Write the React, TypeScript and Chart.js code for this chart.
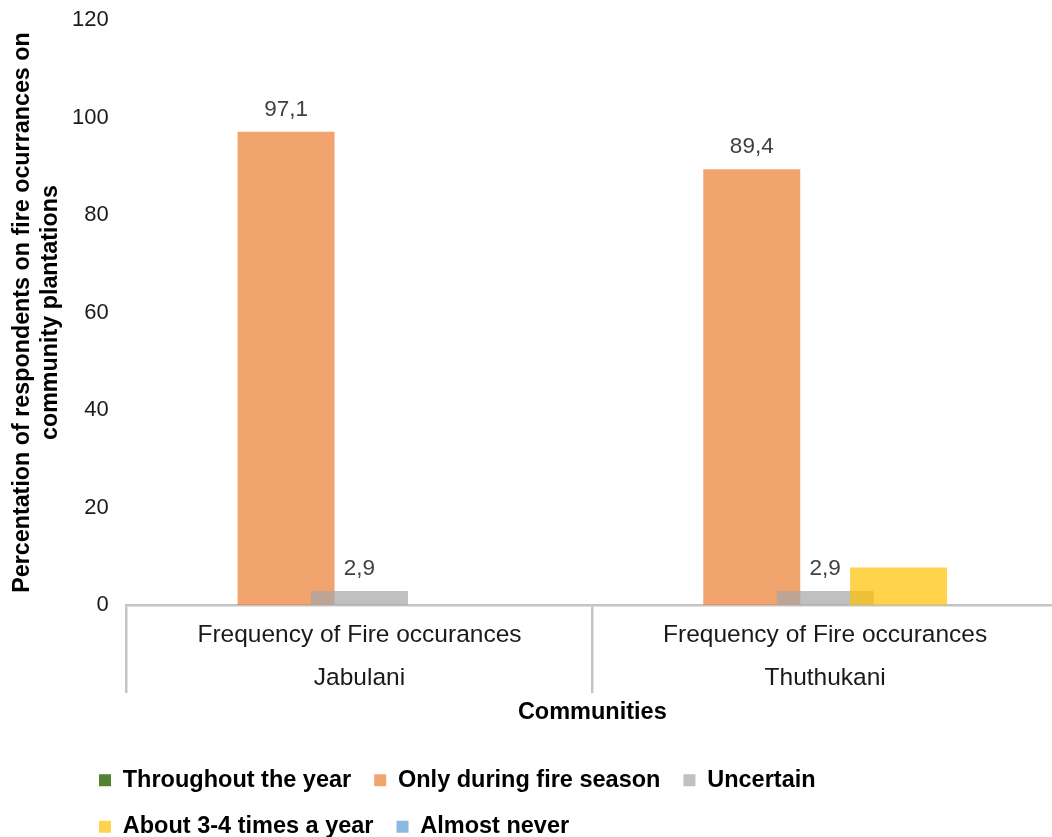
import React, { useEffect, useRef } from 'react';
import { Chart, registerables } from 'chart.js';

Chart.register(...registerables);

// ---- data ----
const COMMUNITIES = ['Jabulani', 'Thuthukani'];
const GROUP_LABEL = 'Frequency of Fire occurances';
const SERIES_NAMES = [
  'Throughout the year',
  'Only during fire season',
  'Uncertain',
  'About 3-4 times a year',
  'Almost never',
];
const THROUGHOUT_THE_YEAR = [0, 0];
const ONLY_DURING_FIRE_SEASON = [97.1, 89.4];
const UNCERTAIN = [2.9, 2.9];
const ABOUT_3_4_TIMES_A_YEAR = [0, 7.7];
const ALMOST_NEVER = [0, 0];
const SERIES_VALUES = [
  THROUGHOUT_THE_YEAR,
  ONLY_DURING_FIRE_SEASON,
  UNCERTAIN,
  ABOUT_3_4_TIMES_A_YEAR,
  ALMOST_NEVER,
];
// series whose values are printed above the bars
const LABELLED_SERIES = ['Only during fire season', 'Uncertain'];
const Y_MIN = 0;
const Y_MAX = 120;
const Y_STEP = 20;
const X_TITLE = 'Communities';
const Y_TITLE = ['Percentation of respondents on fire ocurrances on', 'community plantations'];

// ---- styling ----
const SERIES_COLORS = [
  'rgb(84, 130, 53)',
  'rgba(237, 125, 49, 0.7)',
  'rgba(165, 165, 165, 0.7)',
  'rgba(255, 192, 0, 0.7)',
  'rgba(91, 155, 213, 0.7)',
];
const FONT_FAMILY = '"Liberation Sans", Arial, Helvetica, sans-serif';
const AXIS_LINE = '#c4c4c4';
const SERIES_SPACING = 0.1576; // distance between neighbouring series, in category units
const BAR_THICKNESS = 97;
const LEGEND_LEFT = 76;
const LEGEND_TOP = 745.5;

Chart.defaults.font.family = FONT_FAMILY;

const formatValue = (v: number) => v.toFixed(1).replace('.', ',');

// Prints the value of the labelled series above each bar.
const valueLabels = {
  id: 'valueLabels',
  afterDatasetsDraw(chart: any) {
    const { ctx } = chart;
    ctx.save();
    ctx.font = `22.5px ${FONT_FAMILY}`;
    ctx.fillStyle = '#404040';
    ctx.textAlign = 'center';
    ctx.textBaseline = 'alphabetic';
    chart.data.datasets.forEach((ds: any, di: number) => {
      if (!LABELLED_SERIES.includes(ds.label)) return;
      const meta = chart.getDatasetMeta(di);
      meta.data.forEach((bar: any, i: number) => {
        const v = ds.data[i].y;
        ctx.fillText(formatValue(v), bar.x, bar.y - 16);
      });
    });
    ctx.restore();
  },
};

// Places the legend block under the left edge of the axis labels.
const legendPlacement = {
  id: 'legendPlacement',
  beforeDraw(chart: any) {
    const legend = chart.legend;
    if (!legend) return;
    legend.left = LEGEND_LEFT;
    legend.top = LEGEND_TOP;
  },
};

export default function App() {
  const canvasRef = useRef<HTMLCanvasElement>(null);

  useEffect(() => {
    document.body.style.margin = '0';
    const n = SERIES_NAMES.length;
    const datasets = SERIES_NAMES.map((name, i) => {
      const offset = (i - (n - 1) / 2) * SERIES_SPACING;
      return {
        type: 'bar' as const,
        label: name,
        data: SERIES_VALUES[i].map((v, c) => ({ x: c + offset, y: v })),
        backgroundColor: SERIES_COLORS[i],
        borderWidth: 0,
        inflateAmount: 0,
        grouped: false,
        barThickness: BAR_THICKNESS,
        order: n - 1 - i, // later series are painted over earlier ones
      };
    });

    const chart = new Chart(canvasRef.current!, {
      type: 'bar',
      data: { labels: COMMUNITIES, datasets },
      options: {
        responsive: false,
        animation: false,
        layout: { padding: { top: 20, right: 0, bottom: 0, left: 0 } },
        plugins: {
          tooltip: { enabled: false },
          legend: {
            position: 'bottom',
            fullSize: false,
            align: 'start',
            labels: {
              boxWidth: 12,
              boxHeight: 12,
              padding: 23,
              color: '#000',
              font: { size: 23.5, weight: 'bold' },
              sort: (a: any, b: any) => a.datasetIndex - b.datasetIndex,
            },
          },
        },
        scales: {
          x: {
            type: 'linear',
            min: -0.5,
            max: COMMUNITIES.length - 0.5,
            bounds: 'data',
            offset: false,
            grid: { offset: false },
            display: false,
          },
          cat: {
            type: 'category',
            axis: 'x',
            position: 'bottom',
            labels: COMMUNITIES.map((c) => [GROUP_LABEL, c]) as any,
            offset: true,
            grid: {
              offset: true,
              drawOnChartArea: false,
              drawTicks: true,
              tickLength: 88,
              color: AXIS_LINE,
              lineWidth: 2.5,
            },
            border: { display: true, color: AXIS_LINE, width: 2.5 },
            ticks: {
              padding: -80,
              maxRotation: 0,
              autoSkip: false,
              color: '#1a1a1a',
              font: { size: 24.5, lineHeight: 1.78 },
            },
            title: {
              display: true,
              text: X_TITLE,
              color: '#000',
              font: { size: 23.5, weight: 'bold', lineHeight: 1.2 },
              padding: { top: 78.5, bottom: 7 },
            },
          },
          y: {
            min: Y_MIN,
            max: Y_MAX,
            ticks: { stepSize: Y_STEP, padding: 3, color: '#1a1a1a', font: { size: 22 } },
            grid: { display: false, drawTicks: true, tickLength: 15 },
            border: { display: false },
            title: {
              display: true,
              text: Y_TITLE,
              color: '#000',
              font: { size: 23.3, weight: 'bold', lineHeight: 1.2 },
              padding: { top: 9, bottom: 4 },
            },
          },
        },
      } as any,
      plugins: [valueLabels, legendPlacement],
    });

    return () => chart.destroy();
  }, []);

  return (
    <div style={{ width: 1052, height: 837, overflow: 'hidden' }}>
      <canvas ref={canvasRef} width={1058} height={837} style={{ display: 'block' }} />
    </div>
  );
}
